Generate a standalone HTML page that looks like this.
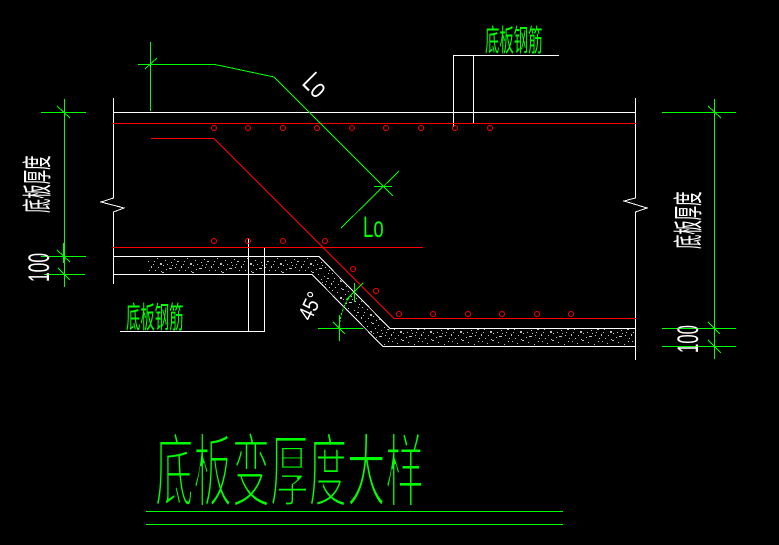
<!DOCTYPE html>
<html>
<head>
<meta charset="utf-8">
<style>
html,body{margin:0;padding:0;background:#000;}
svg{display:block;}
.cjk{font-family:"Liberation Sans","Noto Sans CJK SC","WenQuanYi Zen Hei",sans-serif;}
.lat{font-family:"Liberation Sans",sans-serif;}
</style>
</head>
<body>
<svg width="779" height="545" viewBox="0 0 779 545" xmlns="http://www.w3.org/2000/svg">
<defs>
<pattern id="conc" x="0" y="0" width="30" height="17" patternUnits="userSpaceOnUse">
<g fill="#c0c0c0">
<rect x="2" y="1" width="1" height="1"/><rect x="7" y="3" width="1" height="1"/>
<rect x="12" y="0" width="2" height="1"/><rect x="18" y="2" width="1" height="1"/>
<rect x="24" y="4" width="1" height="1"/><rect x="28" y="1" width="1" height="1"/>
<rect x="4" y="6" width="1" height="1"/><rect x="10" y="8" width="2" height="2"/>
<rect x="15" y="5" width="1" height="1"/><rect x="21" y="7" width="1" height="1"/>
<rect x="26" y="9" width="1" height="1"/><rect x="1" y="11" width="1" height="2"/>
<rect x="8" y="12" width="1" height="1"/><rect x="13" y="10" width="1" height="1"/>
<rect x="19" y="13" width="3" height="1"/><rect x="25" y="12" width="1" height="1"/>
<rect x="29" y="15" width="1" height="1"/><rect x="5" y="15" width="1" height="1"/>
<rect x="11" y="16" width="1" height="1"/><rect x="16" y="14" width="1" height="1"/>
<rect x="3" y="9" width="1" height="1"/><rect x="22" y="10" width="1" height="1"/>
<rect x="17" y="9" width="1" height="1"/><rect x="27" y="6" width="2" height="1"/>
</g>
</pattern>
</defs>
<rect width="779" height="545" fill="#000"/>

<!-- concrete hatch -->
<polygon points="148,258 318.5,258 389.5,329 634,329 634,345 383.5,345 312.5,273 148,273" fill="url(#conc)"/>

<!-- white lines -->
<g stroke="#fff" stroke-width="1" fill="none" shape-rendering="crispEdges">
<path d="M113.5 98 V198 L101 202 L124 208 L113.5 212 V284"/>
<path d="M635.5 98 V198 L624 201 L647 208 L635.5 212 V360"/>
<path d="M113 112.5 H636"/>
<path d="M453.5 127 V55.5 H559"/>
<path d="M473.5 123 V55.5"/>
<path d="M113 256.5 H319 L390 328.5 H636"/>
<path d="M113 274.5 H312 L383 346.5 H636"/>
<path d="M248.5 239 V331.5"/>
<path d="M264.5 248 V331.5"/>
<path d="M120 331.5 H265"/>
</g>

<!-- red lines and bars -->
<g stroke="#ff0000" stroke-width="1" fill="none" shape-rendering="crispEdges">
<path d="M113 123.5 H636"/>
<path d="M151 138.5 H214 L394 318.5 H636"/>
<path d="M113 247.5 H423"/>
</g>
<g stroke="#ff0000" stroke-width="1" fill="none">
<circle cx="214" cy="128" r="2.5"/><circle cx="248" cy="128" r="2.5"/>
<circle cx="283" cy="128" r="2.5"/><circle cx="317" cy="128" r="2.5"/>
<circle cx="352" cy="128" r="2.5"/><circle cx="386" cy="128" r="2.5"/>
<circle cx="421" cy="128" r="2.5"/><circle cx="455" cy="128" r="2.5"/>
<circle cx="490" cy="128" r="2.5"/>
<circle cx="214" cy="241" r="2.5"/><circle cx="248" cy="241" r="2.5"/>
<circle cx="283" cy="241" r="2.5"/><circle cx="325" cy="241" r="2.5"/>
<circle cx="353" cy="269" r="2.5"/><circle cx="376" cy="291" r="2.5"/>
<circle cx="399" cy="314" r="2.5"/><circle cx="433" cy="314" r="2.5"/>
<circle cx="468" cy="314" r="2.5"/><circle cx="502" cy="314" r="2.5"/>
<circle cx="537" cy="314" r="2.5"/><circle cx="571" cy="314" r="2.5"/>
</g>

<!-- green dimension lines -->
<g stroke="#00ff00" stroke-width="1" fill="none" shape-rendering="crispEdges">
<path d="M150.5 42 V111"/>
<path d="M138 64.5 H215 L274 77 L393 196"/>
<path d="M145 69 L157 58"/>
<path d="M374 186.5 H392"/>
<path d="M341 228 L399 171"/>
<path d="M64.5 99 V287"/>
<path d="M41 112.5 H86"/>
<path d="M41 256.5 H86"/>
<path d="M44 274.5 H85"/>
<path d="M57 106 L70 118"/>
<path d="M57 250 L70 262"/>
<path d="M58 268 L70 280"/>
<path d="M714.5 99 V359"/>
<path d="M662 112.5 H736"/>
<path d="M662 328.5 H736"/>
<path d="M662 346.5 H736"/>
<path d="M708 106 L721 118"/>
<path d="M708 322 L720 334"/>
<path d="M708 340 L721 353"/>
<path d="M354.5 283 V302"/>
<path d="M363 283 L346 300"/>
<path d="M354 292 Q341 305 339 328" stroke-dasharray="3 1"/>
<path d="M318 328.5 H363"/>
<path d="M339.5 315 V341"/>
<path d="M333 322 L345 334"/>
<path d="M146 511.5 H563"/>
<path d="M146 524.5 H563"/>
</g>
<rect x="63" y="243" width="2" height="20" fill="#00ff00"/>

<!-- texts -->
<g class="cjk" fill="#00ff00">
<text transform="translate(485,51) scale(0.48,1)" font-size="30">底板钢筋</text>
<text transform="translate(126,328) scale(0.48,1)" font-size="30">底板钢筋</text>
<text transform="translate(155,500) scale(0.48,1)" font-size="80" stroke="#000" stroke-width="3">底板变厚度大样</text>
</g>
<g class="cjk" fill="#ffffff">
<text transform="translate(48,213) rotate(-90) scale(0.48,1)" font-size="30">底板厚度</text>
<text transform="translate(699,249) rotate(-90) scale(0.48,1)" font-size="30">底板厚度</text>
</g>
<g class="lat" fill="#ffffff">
<text transform="translate(49,282) rotate(-90) scale(0.58,1)" font-size="30">100</text>
<text transform="translate(698,353) rotate(-90) scale(0.56,1)" font-size="30">100</text>
<text transform="translate(301,84) rotate(45) scale(0.7,1)" font-size="28">Lo</text>
<text transform="translate(311,322) rotate(-65) scale(0.85,1)" font-size="22">45°</text>
</g>
<text class="lat" fill="#00ff00" transform="translate(363,237) scale(0.62,1)" font-size="30">Lo</text>
</svg>
</body>
</html>
